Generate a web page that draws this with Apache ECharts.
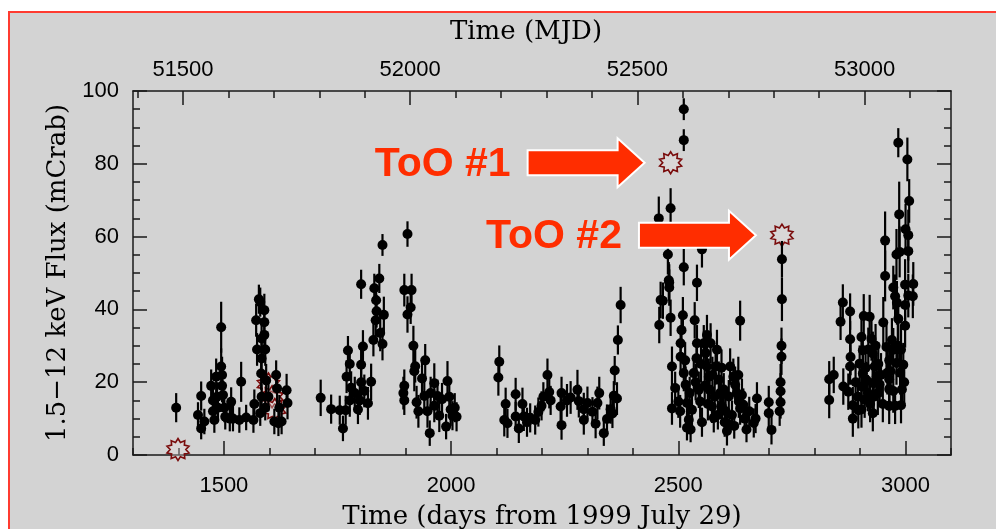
<!DOCTYPE html>
<html>
<head>
<meta charset="utf-8">
<script src="https://cdn.jsdelivr.net/npm/echarts@6/dist/echarts.min.js"></script>
<style>
html,body{margin:0;padding:0;background:#fff;}
#chart{width:996px;height:529px;}
</style>
</head>
<body>
<div id="chart"></div>
<script>
// ---- data (days from 1999 July 29, flux in mCrab, 1-sigma error) ----
const days = [
1395,1443,1450,1450,1457,1472,1476,1476,1479,1483,1485,1487,1494,1494,1496,1496,1498,1501,1503,1513,1516,1520,1534,1538,1549,
1565,1567,1571,1573,1577,1580,1580,1582,1583,1583,1583,1589,1589,1589,1591,1591,1593,1598,1611,1615,1617,1620,1622,1627,1638,1640,
1713,1736,1755,1762,1768,1770,1773,1777,1777,1780,1788,1795,1799,1802,1802,1802,1806,1809,1817,1824,1829,1831,1834,1835,1836,1842,1844,1849,1849,1852,
1895,1897,1897,1897,1904,1904,1911,1913,1917,1919,1921,1924,1928,1936,1941,1943,1948,1953,1955,1963,1963,1970,1974,1980,1989,1992,1996,1999,2003,2008,2012,
2104,2106,2117,2120,2124,2142,2142,2149,2157,2160,2167,2174,2185,2192,2199,2203,2212,2216,2219,2241,2243,2243,2255,2263,2278,2281,2292,2292,2300,2311,2318,2322,2326,2336,2343,2351,2355,2358,2360,2365,2367,2373,
2457,2458,2461,2466,2477,2479,2480,2480,2483,2483,2486,2486,2493,2500,2504,2505,2505,2507,2510,2512,2512,2512,2512,2516,2519,2519,2523,2527,2530,2534,2536,2540,2541,2541,2545,2548,2552,2552,2556,2560,2563,2563,2567,2569,2571,2574,2578,2582,2585,2589,2592,2596,2604,2607,2607,2611,2614,2621,2625,2629,2633,2636,2636,2640,2643,2666,2670,2673,2699,2699,2705,2723,2725,2725,2725,2727,2727,2728,2728,
2515,2525,2538,2550,2558,2565,2575,2580,2587,2595,2600,2602,2618,2623,2632,2646,2650,2656,
2832,2832,2842,2857,2862,2863,2874,2878,2878,2878,2879,2884,2884,2896,2899,2903,2903,2903,2906,2906,2908,2910,2914,2917,2921,2925,2928,2928,2928,2932,2936,2939,2943,
2951,2955,2955,2958,2960,2964,2964,2964,2964,2970,2973,2973,2973,2977,2977,2980,2980,2981,2984,2984,2986,2987,2988,2990,2990,2995,2999,2999,2999,3000,3004,3006,3006,3006,3008,3016,3017,
2890,2895,2912,2918,2922,2930,2934,2940,2946,2950,2967,2983,2992,2997
];
const flux = [
13.0,11.0,16.2,7.3,9.2,19,15,12,9.6,21.5,16,13,35.1,24.3,22,19,16.5,13,10.5,10,14.6,10,9.6,20.1,10.3,
9.6,14,37,29,42.8,42,11.5,22.4,32,26.5,16,39.8,36.5,33,29,13,20.5,16,9.2,22,18.3,8.7,13,9.2,17.8,14.3,
15.7,12.6,12.3,7.3,12.3,21.5,28.7,25,15,18.5,17,12.5,15,46.9,24.8,20,29.8,17.6,14.2,20.1,31.6,45.8,37,42.5,39.5,48.5,33.5,57.7,30.5,38.5,
17,19,15,45.3,60.7,38.6,40.5,45.3,30,23,24.4,14.5,12,21,16.2,26,12,6,17,19.7,13.5,16.2,10.8,15.3,7.8,20.3,16,12.5,10.8,13,10.5,
21.3,25.6,9.6,14,8.7,16.7,10.6,7.3,14,10.6,9,10.2,9.6,11.8,13.5,16,22,17.3,15,13.3,17,8.2,15,15.8,17.9,14.8,12.6,9.6,14.3,11.9,8.6,14.3,17,6,9.9,12.6,11.4,16.3,23.2,15.5,31.6,41.2,
65,35.7,42.6,42.4,55.1,48,47.4,46,67.8,37.7,24.3,12.8,18.4,14.7,12,30.7,27,34.3,38.4,95,86.5,51.6,22.5,19.3,14.3,7.5,9.7,7,12.4,22.5,37,26.6,47.3,30.7,17.9,14.7,56.5,9,30.7,28,33,24.3,21.5,17.9,30.7,13.3,10.2,24.3,28.9,20.7,17,13.3,12,8.8,6.6,16.1,24.3,21.5,19.3,17,14.7,36.9,12.8,16.5,13.8,8.8,10,15.5,14.5,11.5,6.9,12,20,17.5,14.5,30,27,42.8,53.8,
26,17,20,25,19,14,22,16,11,24,18,9,11,8,22,10,7,12,
20.8,15.1,22,36.6,41.9,18.8,17.4,39.4,31.8,24.3,26.9,13.7,10,12.3,25.1,32.4,18.8,12.5,28.8,22.4,38.2,15.2,20.6,17,38,31.9,27.9,19.8,11.5,24.3,21.5,17,19.4,
36.4,58.9,49.2,29.7,22.6,26,20.8,18.1,13.5,31.6,46,28.9,17.6,43.6,13.5,55.1,25.3,41.8,85.8,37.4,66.1,55.8,22.6,28.9,13.7,24.8,46.8,41.2,35.5,62,81.2,60.4,56,43.8,69.8,43.6,47,
20,16,24,29,14,16,30,25,22,14,23,30,18,20
];
const err = [
4,3.5,4,3,3.5,4.5,4,3.5,3.5,5,4,3.5,7,5,5,4.5,4,4,3.5,3.5,4,3.5,3.5,5.5,3.5,
3.5,4,4.5,4.5,4,4,3.5,4.5,4.5,4.5,3.5,4.5,4.5,4.5,4.5,3.5,4.5,4,3.5,4,4.5,3.5,3.5,3.5,4.5,4.5,
5,4,4,3.5,4,4.5,4,4.5,4.5,4.5,4.5,4,4,4,4.5,4.5,4.5,4.5,4.5,5,4.5,4,4.5,4.5,4.5,4,5,3,4.5,5,
4.5,4.5,4,4.5,3.5,5,4.5,4.5,5.5,5.5,4.5,4.5,4.5,4.5,4.5,4.5,4.5,3.5,4.5,5.5,4.5,4.5,4.5,4.5,3.5,5.5,4.5,4.5,4,4,4,
5,4.5,4.5,4.5,4,4.5,4,4,4.5,4,4,4,4,4,4,4,4.5,4.5,4,4.5,4.5,4,4.5,4.5,5.5,4.5,4.5,4,4.5,4,4,4.5,4.5,3.5,4,4,4,4,4,4.5,4,5,
6,5,5,5,5.5,5,5,5,5.5,5,5.5,4.5,4.5,4.5,4.5,5,5,5,5,3,3,5,5,5,4.5,3.5,4,3.5,4.5,5,5,5,5,5,5,4.5,5,4,5,5,5.5,5.5,5,5,5.5,4.5,4,5,5.5,5,5,4.5,4.5,4,4,4.5,5,5,5,5,4.5,5.5,4.5,4.5,4.5,4,4,4.5,4.5,4,4,4,5,5,4.5,5,5,6,5,
5,4.5,5,5,4.5,4.5,5,4.5,4,5,4.5,4,4,3.5,5,4,3.5,4,
5,5,5,5,5,5,5,5,5,5,5,5,5,5,5,5,5,5,5,5,6,5,5,5,6,6,6,6,5,6,6,6,6,
7,8,7,6,6,6,6,6,5,6,6,6,6,6,5,7,6,6,4,6,9,7,6,7,5,6,7,6,6,7,6,7,6,6,6,6,6,
5,5,6,6,5,5,6,6,6,5,6,6,5,6
];
// ToO / pointed observations (open stars)
const starDays = [1399, 1598, 1606, 1612, 2483, 2728];
const starFlux = [1.5, 19.5, 16, 12.5, 80.3, 60.4];
const tooIndex = [4, 5];               // which stars carry an arrow label
const tooLabels = ['ToO #1', 'ToO #2'];
// ticks
const bottomTicks = [1500, 2000, 2500, 3000];
const topTicks = [51500, 52000, 52500, 53000];
const yTicks = [0, 20, 40, 60, 80, 100];
const mjdOffset = 50090;
const dayMin = 1300, dayMax = 3100;

// ---- derived helpers ----
const bottomMinor = [];
for (let v = dayMin; v <= dayMax; v += 100) bottomMinor.push(v);
const topMinor = [];
for (let v = 51400; v <= dayMax + mjdOffset; v += 100) topMinor.push(v);

const points = days.map((d, i) => [d, flux[i]]);
const bars = days.map((d, i) => [d, Math.max(0, flux[i] - err[i]), flux[i] + err[i]]);
const stars = starDays.map((d, i) => [d, starFlux[i]]);

function starPath(n, ro, ri) {
  let s = 'path://';
  for (let k = 0; k < 2 * n; k++) {
    const r = k % 2 ? ri : ro;
    const a = Math.PI * k / n - Math.PI / 2;
    s += (k ? 'L' : 'M') + (10 + r * Math.cos(a)).toFixed(2) + ' ' + (10 + r * Math.sin(a)).toFixed(2) + ' ';
  }
  return s + 'Z';
}

const AX = '#1a1a1a';
const plain = function (v) { return String(v); };
const tickFont = {fontFamily: 'Liberation Sans, Arial, sans-serif', fontSize: 22, color: '#000', formatter: plain};
const titleFont = {fontFamily: 'DejaVu Serif, serif', fontSize: 26, color: '#000'};
const lineStyle = {color: AX, width: 1.5};

const chart = echarts.init(document.getElementById('chart'), null, {renderer: 'canvas'});
const option = {
  backgroundColor: '#ffffff',
  animation: false,
  grid: {left: 133, right: 45, top: 91, bottom: 74, containLabel: false, outerBoundsMode: 'none'},
  xAxis: [
    {type: 'value', position: 'bottom', min: dayMin, max: dayMax,
     axisLine: {show: true, lineStyle: lineStyle},
     axisTick: {show: true, inside: true, length: 14, customValues: bottomTicks, lineStyle: lineStyle},
     axisLabel: Object.assign({customValues: bottomTicks, margin: 20}, tickFont),
     splitLine: {show: false},
     name: 'Time (days from 1999 July 29)', nameLocation: 'middle', nameGap: 49, nameTextStyle: titleFont},
    {type: 'value', position: 'bottom', min: dayMin, max: dayMax,
     axisLine: {show: false},
     axisTick: {show: true, inside: true, length: 7, customValues: bottomMinor, lineStyle: lineStyle},
     axisLabel: {show: false}, splitLine: {show: false}},
    {type: 'value', position: 'top', min: dayMin + mjdOffset, max: dayMax + mjdOffset,
     axisLine: {show: true, lineStyle: lineStyle},
     axisTick: {show: true, inside: true, length: 14, customValues: topTicks, lineStyle: lineStyle},
     axisLabel: Object.assign({customValues: topTicks, margin: 10}, tickFont),
     splitLine: {show: false},
     name: 'Time (MJD)', nameLocation: 'middle', nameGap: 46,
     nameTextStyle: Object.assign({padding: [0, 32, 0, 0]}, titleFont)},
    {type: 'value', position: 'top', min: dayMin + mjdOffset, max: dayMax + mjdOffset,
     axisLine: {show: false},
     axisTick: {show: true, inside: true, length: 7, customValues: topMinor, lineStyle: lineStyle},
     axisLabel: {show: false}, splitLine: {show: false}}
  ],
  yAxis: [
    {type: 'value', position: 'left', min: yTicks[0], max: yTicks[yTicks.length - 1], interval: 20,
     axisLine: {show: true, lineStyle: lineStyle},
     axisTick: {show: true, inside: true, length: 14, lineStyle: lineStyle},
     minorTick: {show: true, splitNumber: 4, length: 7, lineStyle: lineStyle},
     axisLabel: Object.assign({margin: 14}, tickFont),
     splitLine: {show: false}, minorSplitLine: {show: false},
     name: '1.5\u221212 keV Flux (mCrab)', nameLocation: 'middle', nameGap: 61, nameTextStyle: titleFont},
    {type: 'value', position: 'right', min: yTicks[0], max: yTicks[yTicks.length - 1], interval: 20,
     axisLine: {show: true, lineStyle: lineStyle},
     axisTick: {show: true, inside: true, length: 14, lineStyle: lineStyle},
     minorTick: {show: true, splitNumber: 4, length: 7, lineStyle: lineStyle},
     axisLabel: {show: false}, splitLine: {show: false}, minorSplitLine: {show: false}}
  ],
  series: [
    {type: 'scatter', xAxisIndex: 0, yAxisIndex: 0, data: stars, z: 1,
     symbol: starPath(10, 10, 6.8), symbolSize: 22,
     itemStyle: {color: 'rgba(230,220,220,0.35)', borderColor: '#7a0c0c', borderWidth: 1.6, opacity: 1}},
    {type: 'custom', xAxisIndex: 0, yAxisIndex: 0, data: bars, z: 2, clip: true,
     renderItem: function (params, api) {
       const a = api.coord([api.value(0), api.value(1)]);
       const b = api.coord([api.value(0), api.value(2)]);
       return {type: 'line', shape: {x1: a[0], y1: a[1], x2: b[0], y2: b[1]},
               style: {stroke: '#000', lineWidth: 2.2}};
     }},
    {type: 'scatter', xAxisIndex: 0, yAxisIndex: 0, data: points, z: 3,
     symbol: 'circle', symbolSize: 10, itemStyle: {color: '#000', opacity: 1}}
  ],
  graphic: [
    {type: 'rect', id: 'bg', z: -100, silent: true,
     shape: {x: 9, y: 12, width: 1100, height: 700},
     style: {fill: '#d3d3d3', stroke: '#ff3b30', lineWidth: 2}}
  ]
};
chart.setOption(option);

// annotation arrows anchored at the ToO stars (converted with the chart's own scales)
const RED = '#ff2d00';
const ann = [];
tooIndex.forEach(function (si, k) {
  const p = chart.convertToPixel({xAxisIndex: 0, yAxisIndex: 0}, [starDays[si], starFlux[si]]);
  const tipX = p[0] - 26, tipY = p[1];
  const headX = tipX - 27, startX = tipX - 117;
  ann.push({type: 'polygon', z: 100, silent: true,
    shape: {points: [[startX, tipY - 12.5], [headX, tipY - 12.5], [headX, tipY - 24.5], [tipX, tipY],
                     [headX, tipY + 24.5], [headX, tipY + 12.5], [startX, tipY + 12.5]]},
    style: {fill: RED, stroke: '#ffffff', lineWidth: 2}});
  ann.push({type: 'text', z: 100, silent: true, x: startX - 17, y: tipY + 2,
    style: {text: tooLabels[k], fill: RED, font: 'bold 41px "Liberation Sans", Arial, sans-serif',
            align: 'right', verticalAlign: 'middle'}});
});
chart.setOption({graphic: option.graphic.concat(ann)});
</script>
</body>
</html>
